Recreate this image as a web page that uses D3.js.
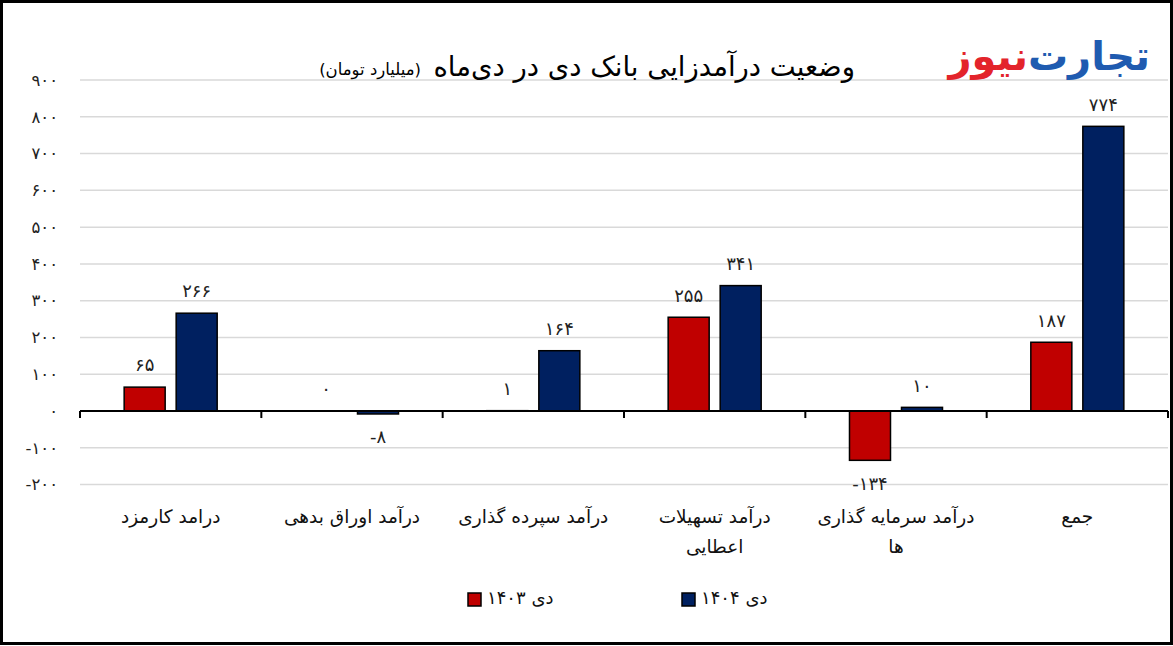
<!DOCTYPE html>
<html><head><meta charset="utf-8">
<script src="https://cdn.jsdelivr.net/npm/d3@7"></script>
<style>
html,body{margin:0;padding:0;background:#fff;}
svg text{font-family:"DejaVu Sans",sans-serif;}
</style></head>
<body><svg id="c" width="1173" height="646"></svg>
<script>
const categories = [
  ["درامد کارمزد"],
  ["درآمد اوراق بدهی"],
  ["درآمد سپرده گذاری"],
  ["درآمد تسهیلات","اعطایی"],
  ["درآمد سرمایه گذاری","ها"],
  ["جمع"]
];
const seriesNames = ["دی ۱۴۰۳","دی ۱۴۰۴"];
const values1403 = [65, 0, 1, 255, -134, 187];
const values1404 = [266, -8, 164, 341, 10, 774];
const valueLabels1403 = ["۶۵","۰","۱","۲۵۵","-۱۳۴","۱۸۷"];
const valueLabels1404 = ["۲۶۶","-۸","۱۶۴","۳۴۱","۱۰","۷۷۴"];
const yTicks = [-200,-100,0,100,200,300,400,500,600,700,800,900];
const yTickLabels = ["-۲۰۰","-۱۰۰","۰","۱۰۰","۲۰۰","۳۰۰","۴۰۰","۵۰۰","۶۰۰","۷۰۰","۸۰۰","۹۰۰"];
const colors = ["#c00000","#002060"];

const svg = d3.select("#c");
svg.append("rect").attr("x",1.5).attr("y",1.5).attr("width",1170).attr("height",642)
  .attr("fill","#fff").attr("stroke","#000").attr("stroke-width",3);

const x0 = d3.scaleBand().domain(d3.range(categories.length)).range([80,1168]).padding(0);
const x1 = d3.scaleBand().domain([0,1]).range([0,x0.bandwidth()]).paddingInner(0.2115).paddingOuter(0.849);
const y = d3.scaleLinear().domain([-200,900]).range([484.6,80]);

// gridlines
svg.append("g").selectAll("line").data(yTicks.filter(t=>t!==0)).join("line")
  .attr("x1",80).attr("x2",1168).attr("y1",d=>y(d)).attr("y2",d=>y(d))
  .attr("stroke","#d9d9d9").attr("stroke-width",1.5);

// y labels
svg.append("g").selectAll("text").data(yTicks).join("text")
  .attr("x",58).attr("y",(d)=>y(d)).attr("dy","0.35em")
  .attr("text-anchor","end").attr("font-size",16.5).attr("fill","#222")
  .text((d,i)=>yTickLabels[i]);

const series = [values1403, values1404];
const labels = [valueLabels1403, valueLabels1404];
series.forEach((vals,s)=>{
  const g = svg.append("g");
  g.selectAll("rect").data(vals).join("rect")
    .attr("x",(d,i)=>x0(i)+x1(s)).attr("width",x1.bandwidth())
    .attr("y",d=>y(Math.max(0,d))).attr("height",d=>Math.abs(y(d)-y(0)))
    .attr("fill",colors[s]).attr("stroke","#000").attr("stroke-width",1.5);
  g.selectAll("text").data(vals).join("text")
    .attr("x",(d,i)=>x0(i)+x1(s)+x1.bandwidth()/2)
    .attr("y",d=> d<0 ? y(d)+23 : y(d)-22)
    .attr("dy","0.35em").attr("text-anchor","middle").attr("font-size",18).attr("fill","#222")
    .text((d,i)=>labels[s][i]);
});

// zero axis
svg.append("line").attr("x1",80).attr("x2",1168).attr("y1",y(0)).attr("y2",y(0))
  .attr("stroke","#000").attr("stroke-width",2);
svg.append("g").selectAll("line").data(d3.range(categories.length+1)).join("line")
  .attr("x1",d=>80+d*x0.step()).attr("x2",d=>80+d*x0.step())
  .attr("y1",y(0)).attr("y2",y(0)+7).attr("stroke","#000").attr("stroke-width",2);

// category labels
categories.forEach((lines,i)=>{
  lines.forEach((t,j)=>{
    svg.append("text").attr("x",x0(i)+x0.bandwidth()/2).attr("y",517+j*30).attr("dy","0.35em")
      .attr("text-anchor","middle").attr("font-size",18.5).attr("fill","#111").text(t);
  });
});

// legend
const legX = [468,682];
seriesNames.forEach((n,i)=>{
  svg.append("rect").attr("x",legX[i]).attr("y",593).attr("width",13).attr("height",13)
    .attr("fill",colors[i]).attr("stroke","#000").attr("stroke-width",1.5);
  svg.append("text").attr("x",legX[i]+19).attr("y",598).attr("dy","0.35em")
    .attr("font-size",18).attr("fill","#111").attr("text-anchor","start").text(n);
});

// title
svg.append("text").attr("x",855).attr("y",66).attr("dy","0.35em").attr("text-anchor","end")
  .attr("font-size",27.5).attr("fill","#000").text("وضعیت درآمدزایی بانک دی در دی‌ماه");
svg.append("text").attr("x",421).attr("y",69).attr("dy","0.35em").attr("text-anchor","end")
  .attr("font-size",16.5).attr("fill","#000").text("(میلیارد تومان)");

// logo
svg.append("text").attr("x",1150).attr("y",56).attr("dy","0.35em").attr("text-anchor","end")
  .attr("font-size",40).attr("font-weight","bold").attr("fill","#1f5bb0").text("تجارت");
svg.append("text").attr("x",1028).attr("y",56).attr("dy","0.35em").attr("text-anchor","end")
  .attr("font-size",40).attr("font-weight","bold").attr("fill","#e3242b").text("نیوز");
</script></body></html>
